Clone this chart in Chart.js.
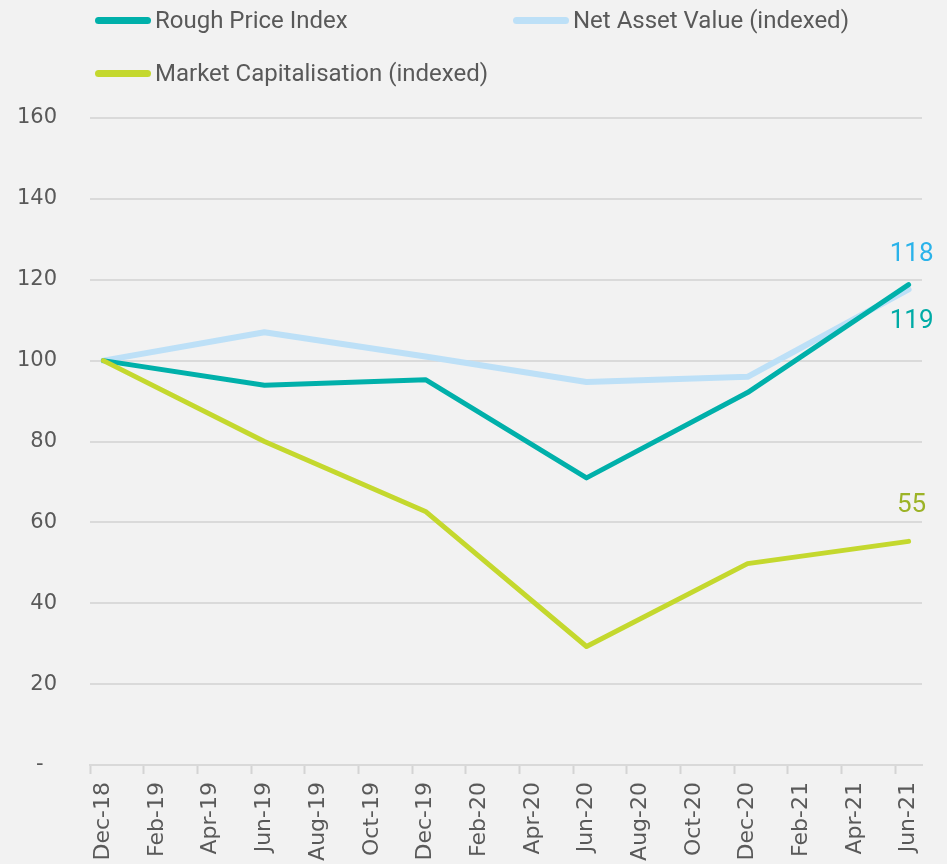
<!DOCTYPE html>
<html>
<head>
<meta charset="utf-8">
<script src="https://cdn.jsdelivr.net/npm/chart.js@4"></script>
<style>
  html, body { margin: 0; padding: 0; background: #f2f2f2; overflow: hidden; }
  #wrap { position: relative; width: 947px; height: 864px; }
  .lg { position: absolute; display: flex; align-items: center; font-family: 'Liberation Sans Narrow', 'Roboto', sans-serif; font-size: 24px; color: #595959; }
  .lg span { display: inline-block; width: 56px; height: 7px; border-radius: 4px; margin-right: 4px; }
</style>
</head>
<body>
<div id="wrap">
  <canvas id="chart" width="947" height="864"></canvas>
  <div class="lg" style="left:95px; top:6px;"><span style="background:#00b0aa"></span>Rough Price Index</div>
  <div class="lg" style="left:513px; top:6px;"><span style="background:#bde0f7"></span>Net Asset Value (indexed)</div>
  <div class="lg" style="left:95px; top:59px;"><span style="background:#c4d82e"></span>Market Capitalisation (indexed)</div>
</div>
<script>
// months, Dec-18 .. Jun-21
const months = [
  'Dec-18', 'Jan-19', 'Feb-19', 'Mar-19', 'Apr-19', 'May-19', 'Jun-19',
  'Jul-19', 'Aug-19', 'Sep-19', 'Oct-19', 'Nov-19', 'Dec-19',
  'Jan-20', 'Feb-20', 'Mar-20', 'Apr-20', 'May-20', 'Jun-20',
  'Jul-20', 'Aug-20', 'Sep-20', 'Oct-20', 'Nov-20', 'Dec-20',
  'Jan-21', 'Feb-21', 'Mar-21', 'Apr-21', 'May-21', 'Jun-21'
];

// half-year readings, gaps in between
const roughPrice = [100, null, null, null, null, null, 93.9, null, null, null, null, null, 95.3,
  null, null, null, null, null, 71.0, null, null, null, null, null, 92.1,
  null, null, null, null, null, 118.8];
const netAssetValue = [100, null, null, null, null, null, 107.0, null, null, null, null, null, 101.0,
  null, null, null, null, null, 94.7, null, null, null, null, null, 96.0,
  null, null, null, null, null, 117.6];
const marketCap = [100, null, null, null, null, null, 80.0, null, null, null, null, null, 62.7,
  null, null, null, null, null, 29.3, null, null, null, null, null, 49.8,
  null, null, null, null, null, 55.3];

const yTicks = [0, 20, 40, 60, 80, 100, 120, 140, 160];

// value labels at the last point
const endLabels = {
  id: 'endLabels',
  afterDatasetsDraw(chart) {
    const ctx = chart.ctx;
    const x = chart.scales.x;
    const y = chart.scales.y;
    ctx.save();
    ctx.font = '26px "Liberation Sans Narrow", Roboto, sans-serif';
    ctx.textAlign = 'center';
    ctx.textBaseline = 'middle';
    chart.data.datasets.forEach(ds => {
      const last = ds.data.length - 1;
      const v = ds.data[last];
      ctx.fillStyle = ds.endColor;
      ctx.fillText(Math.round(v), x.getPixelForValue(last) + 3, y.getPixelForValue(v) + ds.endShift);
    });
    ctx.restore();
  }
};

new Chart(document.getElementById('chart'), {
  type: 'line',
  data: {
    labels: months,
    datasets: [{
      label: 'Rough Price Index',
      data: roughPrice,
      borderColor: '#00b0aa',
      borderWidth: 5,
      order: 1,
      endColor: '#00aba6',
      endShift: 37
    }, {
      label: 'Net Asset Value (indexed)',
      data: netAssetValue,
      borderColor: '#bde0f7',
      borderWidth: 6,
      order: 2,
      endColor: '#2bb3ea',
      endShift: -35
    }, {
      label: 'Market Capitalisation (indexed)',
      data: marketCap,
      borderColor: '#c4d82e',
      borderWidth: 5,
      order: 0,
      endColor: '#9cb327',
      endShift: -36
    }]
  },
  options: {
    responsive: false,
    animation: false,
    spanGaps: true,
    layout: { padding: { top: 118, right: 25, left: 0, bottom: 0 } },
    elements: {
      point: { radius: 0 },
      line: { tension: 0, borderCapStyle: 'round', borderJoinStyle: 'round' }
    },
    plugins: {
      legend: { display: false },
      tooltip: { enabled: false }
    },
    scales: {
      x: {
        offset: true,
        grid: {
          offset: true,
          drawOnChartArea: false,
          drawTicks: true,
          tickLength: 9,
          tickWidth: 2,
          tickColor: function(c) { return c.index % 2 === 0 ? '#d4d4d4' : 'rgba(0,0,0,0)'; }
        },
        border: { display: true, color: '#d9d9d9', width: 2 },
        ticks: {
          autoSkip: false,
          minRotation: 90,
          maxRotation: 90,
          padding: 8,
          color: '#595959',
          font: { family: '"DejaVu Sans", sans-serif', size: 22 },
          callback: function(value, index) {
            return index % 2 === 0 ? this.getLabelForValue(value) : '';
          }
        },
        afterFit: function(scale) { scale.height = 99; }
      },
      y: {
        min: 0,
        max: 160,
        afterBuildTicks: function(scale) { scale.ticks = yTicks.map(v => ({ value: v })); },
        grid: { color: '#dadada', lineWidth: 2, drawTicks: false },
        border: { display: false },
        ticks: {
          padding: 33,
          color: '#595959',
          font: { family: '"DejaVu Sans", sans-serif', size: 21 },
          callback: function(value) { return value === 0 ? '-  ' : value; }
        },
        afterFit: function(scale) { scale.width = 90; }
      }
    }
  },
  plugins: [endLabels]
});
</script>
</body>
</html>
